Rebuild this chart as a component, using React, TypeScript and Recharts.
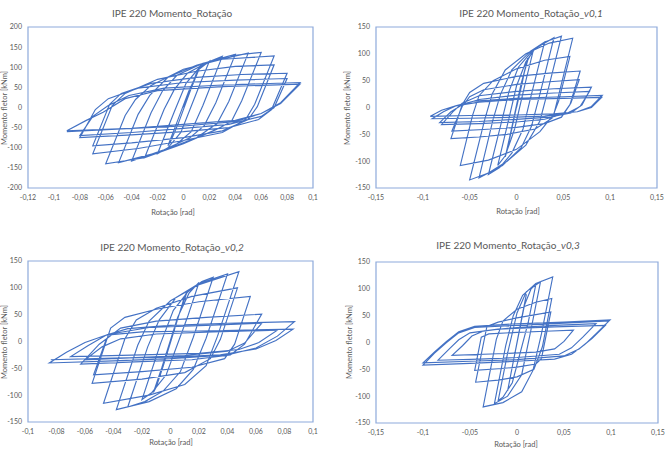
import React from "react";
import { LineChart, Line, XAxis, YAxis, ReferenceArea } from "recharts";

type P = [number, number];

// ---- Panel 1: IPE 220 Momento_Rotação ----
const xTicks1 = [-0.12, -0.1, -0.08, -0.06, -0.04, -0.02, 0, 0.02, 0.04, 0.06, 0.08, 0.1];
const yTicks1 = [-200, -150, -100, -50, 0, 50, 100, 150, 200];
const loop1: P[] = [
  [0, 0], [0.006, 50], [0.01, 85], [0.012, 95],
  [0.006, 48], [-0.004, -40], [-0.01, -85], [-0.012, -95],
  [-0.006, -45], [0.004, 40], [0.012, 95], [0.02, 115],
  [0.012, 52], [-0.002, -62], [-0.012, -100], [-0.02, -115],
  [-0.007, -10], [0.002, 60], [0.012, 98], [0.022, 117], [0.03, 127],
  [0.015, 5], [0.006, -60], [-0.005, -90], [-0.018, -110], [-0.03, -125],
  [-0.015, -5], [-0.007, 45], [0.003, 85], [0.02, 115], [0.04, 132],
  [0.025, 12], [0.016, -45], [0.005, -75], [-0.015, -105], [-0.04, -133],
  [-0.025, -13], [-0.016, 42], [-0.005, 80], [0.015, 110], [0.05, 135],
  [0.035, 15], [0.026, -40], [0.01, -75], [-0.02, -112], [-0.05, -137],
  [-0.035, -17], [-0.026, 30], [-0.012, 75], [0.01, 105], [0.035, 128], [0.06, 137],
  [0.045, 17], [0.037, -35], [0.025, -55], [0, -90], [-0.03, -125], [-0.06, -140],
  [-0.045, -20], [-0.037, 20], [-0.025, 55], [0, 95], [0.03, 120], [0.07, 128],
  [0.055, 8], [0.048, -30], [0.03, -62], [0, -82], [-0.035, -102], [-0.07, -115],
  [-0.055, 5], [-0.045, 35], [-0.02, 70], [0.01, 90], [0.04, 102], [0.07, 106],
  [0.057, 2], [0.05, -30], [0.03, -58], [0, -75], [-0.04, -88], [-0.07, -95],
  [-0.057, 8], [-0.048, 35], [-0.025, 60], [0.01, 75], [0.045, 82], [0.08, 85],
  [0.068, -5], [0.058, -30], [0.035, -50], [0, -60], [-0.04, -68], [-0.08, -75],
  [-0.068, -5], [-0.058, 22], [-0.035, 48], [0, 62], [0.04, 68], [0.08, 72],
  [0.07, 0], [0.06, -22], [0.035, -42], [0, -52], [-0.04, -62], [-0.08, -70],
  [-0.07, -22], [-0.058, 5], [-0.042, 30], [-0.015, 48], [0.03, 56], [0.09, 62],
  [0.075, 12], [0.06, -15], [0.04, -35], [0, -46], [-0.04, -52], [-0.09, -58],
  [-0.075, -32], [-0.062, -12], [-0.045, 22], [-0.02, 42], [0.03, 52], [0.09, 58],
  [0.075, 10], [0.06, -15], [0.04, -32], [0, -42], [-0.04, -52], [-0.09, -60],
];

// ---- Panel 2: v0,1 ----
const xTicks2 = [-0.15, -0.1, -0.05, 0, 0.05, 0.1, 0.15];
const yTicks2 = [-150, -100, -50, 0, 50, 100, 150];
const loop2: P[] = [
  [0, 0], [0.006, 45], [0.01, 80], [0.012, 92],
  [0.006, 50], [-0.005, -40], [-0.01, -80], [-0.012, -92],
  [-0.006, -45], [0.005, 45], [0.012, 88], [0.018, 107],
  [0.01, 50], [-0.002, -40], [-0.012, -90], [-0.02, -108],
  [-0.008, -20], [0, 40], [0.01, 85], [0.02, 110], [0.03, 122],
  [0.015, 18], [0.007, -40], [-0.005, -85], [-0.018, -112], [-0.03, -125],
  [-0.015, -20], [-0.008, 30], [0.002, 75], [0.018, 108], [0.04, 130],
  [0.025, 25], [0.016, -35], [0.005, -75], [-0.015, -108], [-0.04, -131],
  [-0.025, -22], [-0.017, 25], [-0.005, 70], [0.015, 105], [0.03, 122], [0.048, 133],
  [0.033, 28], [0.025, -25], [0.01, -70], [-0.01, -100], [-0.03, -122], [-0.05, -135],
  [-0.034, -23], [-0.026, 25], [-0.012, 70], [0.01, 100], [0.035, 120], [0.06, 129],
  [0.046, 30], [0.04, -12], [0.025, -45], [0, -78], [-0.03, -98], [-0.06, -108],
  [-0.047, -15], [-0.04, 22], [-0.025, 50], [0, 72], [0.03, 88], [0.057, 95],
  [0.045, 12], [0.038, -20], [0.02, -40], [-0.01, -50], [-0.04, -55], [-0.07, -58],
  [-0.058, 5], [-0.05, 28], [-0.035, 45], [0, 58], [0.035, 64], [0.068, 68],
  [0.057, 5], [0.048, -18], [0.03, -30], [0, -37], [-0.035, -41], [-0.069, -44],
  [-0.058, 2], [-0.05, 20], [-0.035, 33], [0, 43], [0.035, 48], [0.067, 52],
  [0.058, 8], [0.05, -12], [0.03, -22], [0, -27], [-0.04, -30], [-0.08, -32],
  [-0.068, -8], [-0.058, 8], [-0.04, 22], [0, 30], [0.04, 35], [0.08, 38],
  [0.07, 5], [0.058, -10], [0.035, -18], [0, -22], [-0.04, -26], [-0.082, -28],
  [-0.07, -8], [-0.058, 5], [-0.04, 15], [0, 23], [0.04, 27], [0.078, 30],
  [0.068, 2], [0.055, -10], [0.03, -16], [0, -18], [-0.05, -20], [-0.09, -21],
  [-0.078, -8], [-0.065, 3], [-0.045, 12], [0, 17], [0.05, 20], [0.0915, 22.5],
  [0.08, 2], [0.065, -8], [0.04, -12], [0, -14], [-0.05, -15], [-0.092, -16.5],
  [-0.08, -5], [-0.065, 3], [-0.04, 10], [0, 15], [0.05, 17], [0.091, 19],
  [0.08, 0], [0.065, -8],
];

// ---- Panel 3: v0,2 ----
const xTicks3 = [-0.1, -0.08, -0.06, -0.04, -0.02, 0, 0.02, 0.04, 0.06, 0.08, 0.1];
const yTicks3 = [-150, -100, -50, 0, 50, 100, 150];
const loop3: P[] = [
  [0, 0], [0.006, 50], [0.01, 85], [0.012, 95],
  [0.006, 50], [-0.005, -45], [-0.01, -85], [-0.012, -95],
  [-0.006, -48], [0.005, 45], [0.013, 90], [0.02, 110],
  [0.012, 46], [-0.003, -62], [-0.013, -95], [-0.02, -108],
  [-0.007, -4], [0.002, 58], [0.012, 92], [0.022, 112], [0.03, 120],
  [0.016, 8], [0.007, -56], [-0.005, -92], [-0.018, -112], [-0.03, -122],
  [-0.016, -10], [-0.008, 40], [0.004, 82], [0.02, 108], [0.04, 126],
  [0.025, 6], [0.016, -52], [0.004, -88], [-0.015, -112], [-0.038, -127],
  [-0.023, -7], [-0.015, 38], [0, 76], [0.02, 106], [0.048, 130],
  [0.033, 10], [0.025, -45], [0.01, -80], [-0.015, -100], [-0.047, -115],
  [-0.032, 5], [-0.024, 40], [-0.01, 62], [0.015, 84], [0.047, 100],
  [0.035, 4], [0.028, -32], [0.01, -58], [-0.02, -70], [-0.055, -78],
  [-0.042, 25], [-0.032, 45], [-0.01, 60], [0.02, 74], [0.056, 84],
  [0.045, -5], [0.038, -32], [0.015, -48], [-0.02, -56], [-0.054, -62],
  [-0.045, 5], [-0.035, 25], [-0.01, 38], [0.025, 45], [0.064, 51],
  [0.052, -5], [0.042, -25], [0.015, -34], [-0.025, -38], [-0.063, -42],
  [-0.05, -5], [-0.04, 15], [-0.015, 26], [0.025, 30], [0.064, 34],
  [0.052, -3], [0.04, -18], [0.01, -26], [-0.025, -30], [-0.06, -34],
  [-0.048, -10], [-0.035, 5], [-0.01, 14], [0.03, 18], [0.075, 21],
  [0.062, -2], [0.048, -15], [0.02, -22], [-0.02, -25], [-0.07, -28],
  [-0.058, -8], [-0.045, 12], [-0.03, 24], [0, 30], [0.04, 34], [0.087, 37],
  [0.075, 10], [0.06, -12], [0.04, -25], [0, -32], [-0.04, -36], [-0.085, -40],
  [-0.073, -20], [-0.06, -2], [-0.045, 12], [-0.02, 18], [0.03, 20], [0.086, 23],
  [0.074, 2], [0.06, -14], [0.035, -25], [0, -29], [-0.04, -31], [-0.084, -34],
];

// ---- Panel 4: v0,3 ----
const xTicks4 = [-0.15, -0.1, -0.05, 0, 0.05, 0.1, 0.15];
const yTicks4 = [-150, -100, -50, 0, 50, 100, 150];
const loop4: P[] = [
  [0, 0], [0.006, 55], [0.01, 90],
  [0.005, 45], [-0.005, -45], [-0.01, -90],
  [-0.005, -45], [0.008, 70], [0.015, 100], [0.02, 108],
  [0.012, 38], [-0.005, -75], [-0.015, -102], [-0.02, -108],
  [-0.01, -20], [0, 55], [0.01, 95], [0.025, 113],
  [0.015, 25], [0.005, -60], [-0.01, -100], [-0.024, -114],
  [-0.012, -6], [-0.004, 50], [0.006, 88], [0.02, 110], [0.038, 122],
  [0.026, 16], [0.017, -52], [0.005, -92], [-0.015, -112], [-0.036, -120],
  [-0.022, 6], [-0.015, 40], [0, 62], [0.02, 75], [0.037, 82],
  [0.027, -8], [0.018, -50], [0, -64], [-0.02, -70], [-0.044, -74],
  [-0.032, 30], [-0.02, 38], [0, 46], [0.02, 52], [0.036, 57],
  [0.026, -30], [0.02, -40], [0, -46], [-0.02, -49], [-0.045, -52],
  [-0.038, 10], [-0.03, 16], [0, 19], [0.03, 21], [0.06, 23],
  [0.05, 2], [0.04, -12], [0.02, -18], [-0.02, -21], [-0.069, -24],
  [-0.058, -6], [-0.048, 12], [-0.035, 22], [0, 28], [0.04, 32], [0.084, 35],
  [0.07, 10], [0.058, -10], [0.045, -22], [0, -28], [-0.04, -31], [-0.084, -33],
  [-0.072, -12], [-0.062, 5], [-0.05, 18], [-0.02, 25], [0.04, 29], [0.094, 32],
  [0.08, 8], [0.066, -12], [0.05, -25], [0, -32], [-0.05, -35], [-0.1, -38],
  [-0.088, -18], [-0.075, 2], [-0.062, 20], [-0.045, 30], [0, 35], [0.05, 38], [0.099, 42],
  [0.085, 18], [0.072, -4], [0.058, -22], [0.04, -31], [0, -35], [-0.05, -39], [-0.1, -42],
  [-0.088, -20], [-0.075, 0], [-0.062, 18], [-0.045, 28], [0, 32], [0.05, 36], [0.098, 40],
];

const LINE = "#4472C4";
const FRAME = "#8EAADB";
const TXT = "#595959";
const FONT = "Lato, 'Open Sans', sans-serif";

const fmt = (v: number) => String(v).replace(".", ",");

interface PanelProps {
  left: number;
  top: number;
  width: number;
  height: number;
  margin: { top: number; right: number; bottom: number; left: number };
  yWidth: number;
  xTicks: number[];
  yTicks: number[];
  pts: P[];
}

function Panel(p: PanelProps) {
  const data = p.pts.map(([x, y]) => ({ x, y }));
  const xd: [number, number] = [p.xTicks[0], p.xTicks[p.xTicks.length - 1]];
  const yd: [number, number] = [p.yTicks[0], p.yTicks[p.yTicks.length - 1]];
  const tick = { fill: TXT, fontSize: 7, fontFamily: FONT };
  return (
    <div style={{ position: "absolute", left: p.left, top: p.top }}>
      <LineChart width={p.width} height={p.height} data={data} margin={p.margin}>
        <XAxis
          dataKey="x"
          type="number"
          domain={xd}
          ticks={p.xTicks}
          interval={0}
          tickFormatter={fmt}
          axisLine={false}
          tickLine={false}
          tickSize={0}
          tickMargin={7}
          height={20}
          tick={tick}
          allowDataOverflow
        />
        <YAxis
          type="number"
          domain={yd}
          ticks={p.yTicks}
          interval={0}
          tickFormatter={fmt}
          axisLine={false}
          tickLine={false}
          tickSize={0}
          tickMargin={6}
          width={p.yWidth}
          tick={tick}
          allowDataOverflow
        />
        <ReferenceArea
          x1={xd[0]}
          x2={xd[1]}
          y1={yd[0]}
          y2={yd[1]}
          fill="none"
          fillOpacity={0}
          stroke={FRAME}
          strokeWidth={1.2}
          ifOverflow="visible"
        />
        <Line
          dataKey="y"
          type="linear"
          stroke={LINE}
          strokeWidth={1.15}
          dot={false}
          activeDot={false}
          isAnimationActive={false}
        />
      </LineChart>
    </div>
  );
}

function Txt(props: { x: number; y: number; size: number; children: React.ReactNode; rotate?: boolean }) {
  return (
    <div
      style={{
        position: "absolute",
        left: props.x,
        top: props.y,
        transform: `translate(-50%, -50%)${props.rotate ? " rotate(-90deg)" : ""}`,
        whiteSpace: "nowrap",
        fontFamily: FONT,
        fontSize: props.size,
        color: TXT,
        lineHeight: 1,
      }}
    >
      {props.children}
    </div>
  );
}

export default function App() {
  return (
    <div style={{ position: "absolute", left: 0, top: 0, width: 666, height: 461, background: "#fff", overflow: "hidden" }}>
      <Panel left={0} top={0} width={333} height={230} margin={{ top: 27, right: 20, bottom: 22, left: 0 }} yWidth={28} xTicks={xTicks1} yTicks={yTicks1} pts={loop1} />
      <Panel left={333} top={0} width={333} height={230} margin={{ top: 27, right: 9, bottom: 22, left: 0 }} yWidth={43} xTicks={xTicks2} yTicks={yTicks2} pts={loop2} />
      <Panel left={0} top={230} width={333} height={231} margin={{ top: 31, right: 20, bottom: 19, left: 0 }} yWidth={28} xTicks={xTicks3} yTicks={yTicks3} pts={loop3} />
      <Panel left={333} top={230} width={333} height={231} margin={{ top: 32, right: 8, bottom: 18, left: 0 }} yWidth={43} xTicks={xTicks4} yTicks={yTicks4} pts={loop4} />

      <Txt x={172} y={13} size={10}>IPE 220 Momento_Rotação</Txt>
      <Txt x={531} y={13} size={10}>IPE 220 Momento_Rotação_<i>v0,1</i></Txt>
      <Txt x={172} y={247} size={10}>IPE 220 Momento_Rotação_<i>v0,2</i></Txt>
      <Txt x={508} y={245} size={10}>IPE 220 Momento_Rotação_<i>v0,3</i></Txt>

      <Txt x={173} y={213} size={7.5}>Rotação [rad]</Txt>
      <Txt x={518} y={212} size={7.5}>Rotação [rad]</Txt>
      <Txt x={171} y={443} size={7.5}>Rotação [rad]</Txt>
      <Txt x={516} y={445} size={7.5}>Rotação [rad]</Txt>

      <Txt x={4.5} y={108} size={7.5} rotate>Momento fletor [kNm]</Txt>
      <Txt x={348} y={108} size={7.5} rotate>Momento fletor [kNm]</Txt>
      <Txt x={5} y={342} size={7.5} rotate>Momento fletor [kNm]</Txt>
      <Txt x={350} y={342} size={7.5} rotate>Momento fletor [kNm]</Txt>
    </div>
  );
}
